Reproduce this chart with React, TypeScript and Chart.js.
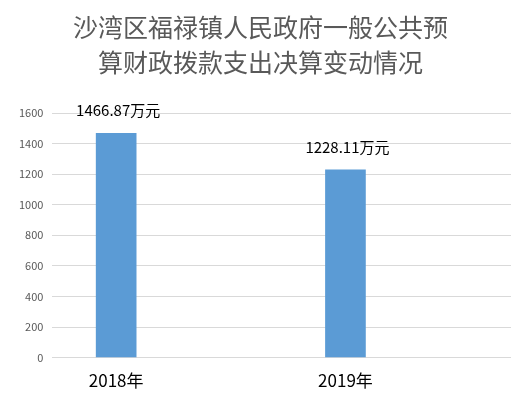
import React, { useEffect, useRef } from "react";
import { Chart, registerables } from "chart.js";

Chart.register(...registerables);

const categories = ["2018年", "2019年"];
const values = [1466.87, 1228.11];
const valueLabels = ["1466.87万元", "1228.11万元"];
const titleLines = ["沙湾区福禄镇人民政府一般公共预", "算财政拨款支出决算变动情况"];
const yTicks = [0, 200, 400, 600, 800, 1000, 1200, 1400, 1600];

const FONT = "'Microsoft YaHei', 'Noto Sans CJK SC', 'Liberation Sans', sans-serif";

const labelPlugin = {
  id: "valueLabels",
  afterDatasetsDraw(chart: any) {
    const ctx = chart.ctx;
    const meta = chart.getDatasetMeta(0);
    ctx.save();
    ctx.font = `15px ${FONT}`;
    ctx.fillStyle = "#000000";
    ctx.textAlign = "center";
    ctx.textBaseline = "middle";
    meta.data.forEach((bar: any, i: number) => {
      ctx.fillText(valueLabels[i], bar.x + 2, bar.y - 23);
    });
    ctx.restore();
  },
};

export default function App() {
  const ref = useRef<HTMLCanvasElement>(null);
  useEffect(() => {
    if (!ref.current) return;
    const chart = new Chart(ref.current, {
      type: "bar",
      data: {
        datasets: [
          {
            data: values.map((v, i) => ({ x: i, y: v })),
            backgroundColor: "#5b9bd5",
            barThickness: 40,
          },
        ],
      },
      plugins: [labelPlugin],
      options: {
        responsive: false,
        animation: false,
        layout: { padding: { top: 0, left: 10, right: 20, bottom: 16 } },
        plugins: {
          legend: { display: false },
          tooltip: { enabled: false },
          title: {
            display: true,
            text: titleLines,
            color: "#595959",
            font: { family: FONT, size: 25, weight: "normal", lineHeight: 1.4 },
            padding: { top: 10, bottom: 33 },
          },
        },
        scales: {
          x: {
            type: "linear",
            offset: false,
            min: -0.278,
            max: 1.722,
            grid: { display: false, offset: false },
            border: { display: false },
            afterBuildTicks: (axis: any) => {
              axis.ticks = categories.map((_, i) => ({ value: i }));
            },
            ticks: {
              padding: 5,
              color: "#000000",
              font: { family: FONT, size: 17 },
              callback: (v: any) => categories[v] ?? "",
            },
          },
          y: {
            min: 0,
            max: 1600,
            afterBuildTicks: (axis: any) => {
              axis.ticks = yTicks.map((v) => ({ value: v }));
            },
            grid: { color: "#d9d9d9", drawTicks: false, lineWidth: 1 },
            border: { display: false },
            ticks: {
              padding: 9,
              color: "#595959",
              font: { family: FONT, size: 11 },
              callback: (v: any) => String(v),
            },
          },
        },
      },
    });
    return () => chart.destroy();
  }, []);
  return (
    <div style={{ position: "fixed", left: 0, top: 0, width: 531, height: 412, background: "#fff" }}>
      <canvas ref={ref} width={531} height={412} />
    </div>
  );
}
